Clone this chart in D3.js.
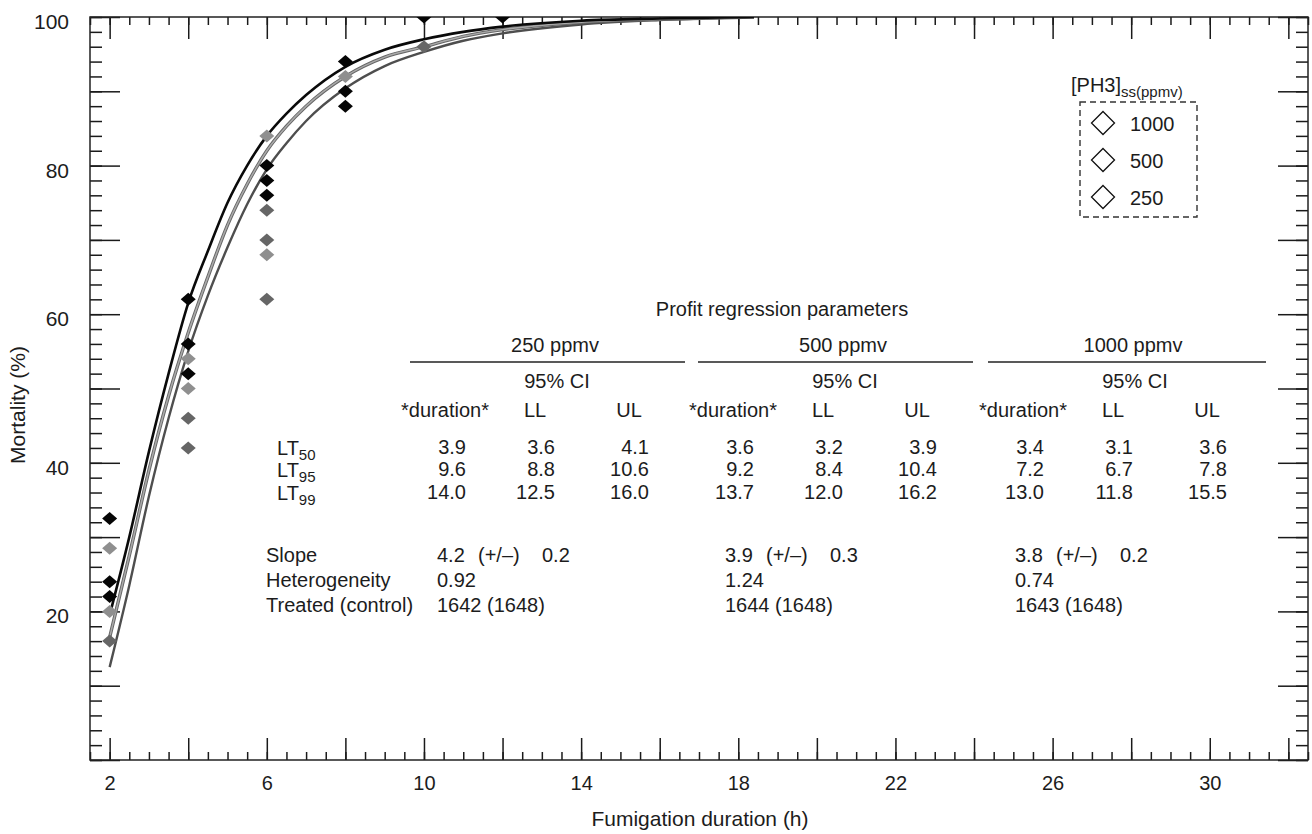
<!DOCTYPE html>
<html>
<head>
<meta charset="utf-8">
<script src="https://cdn.jsdelivr.net/npm/d3@7"></script>
<style>
  body { margin: 0; background: #fff; }
  svg text { font-family: "Liberation Sans", Arial, Helvetica, sans-serif; fill: #1c1c1c; }
  .frame { fill: none; stroke: #222; stroke-width: 1.5; }
</style>
</head>
<body>
<div id="chart"></div>
<script>
// observed mortality (%) by fumigation duration (h), one pair of arrays per concentration
var hours1000 = [2, 2, 2, 4, 4, 4, 6, 6, 6, 8, 8, 8, 10, 12];
var mort1000  = [32.5, 24, 22, 62, 56, 52, 80, 78, 76, 94, 90, 88, 100, 100];
var hours500  = [2, 2, 4, 4, 6, 6, 8];
var mort500   = [28.5, 20, 54, 50, 84, 68, 92];
var hours250  = [2, 4, 4, 6, 6, 6, 10];
var mort250   = [16, 46, 42, 74, 70, 62, 96];

// fitted probit curves
var fitHours = [2, 2.5, 3, 3.5, 4, 4.5, 5, 5.5, 6, 6.5, 7, 8, 9, 10, 11, 12, 14, 16, 18.4];
var fit1000  = [19.5, 30, 41.5, 52, 61.5, 68.5, 75, 80, 84, 87, 89.5, 93.3, 95.6, 97, 98, 98.7, 99.5, 99.8, 100];
var fit500   = [16.5, 27.5, 39, 49, 57.5, 65, 72, 77.5, 82, 85.3, 88, 92, 94.6, 96, 97.4, 98.3, 99.3, 99.7, 100];
var fit250   = [12.5, 23.5, 35.5, 46, 55, 62.5, 69, 74.8, 79.5, 83, 86, 90.4, 93.4, 95.3, 96.8, 97.8, 99, 99.6, 100];

// legend
var legendLabels = ["1000", "500", "250"];

// axis ticks
var xLabelTicks = [2, 6, 10, 14, 18, 22, 26, 30];
var yLabelTicks = [20, 40, 60, 80, 100];
var xMinor = d3.range(1.5, 32.51, 0.5);
var xMajor = d3.range(2, 33, 2);
var yMinor = d3.range(0, 100.1, 2);
var yMajor = d3.range(0, 100.1, 10);

// probit regression table
var groupNames = ["250 ppmv", "500 ppmv", "1000 ppmv"];
var colNames = ["*duration*", "LL", "UL"];
var ltNames = ["50", "95", "99"];
var lt250  = [[3.9, 3.6, 4.1], [9.6, 8.8, 10.6], [14.0, 12.5, 16.0]];
var lt500  = [[3.6, 3.2, 3.9], [9.2, 8.4, 10.4], [13.7, 12.0, 16.2]];
var lt1000 = [[3.4, 3.1, 3.6], [7.2, 6.7, 7.8], [13.0, 11.8, 15.5]];
var slopes = [4.2, 3.9, 3.8];
var slopeErr = [0.2, 0.3, 0.2];
var heterogeneity = ["0.92", "1.24", "0.74"];
var treated = [1642, 1644, 1643];
var control = [1648, 1648, 1648];

var width = 1312, height = 834;
var plotL = 90, plotR = 1308, plotT = 17, plotB = 760;

var svg = d3.select("#chart").append("svg")
  .attr("width", width)
  .attr("height", height);

var x = d3.scaleLinear().domain([1.5, 32.5]).range([plotL, plotR]);
var y = d3.scaleLinear().domain([0, 100]).range([plotB, plotT]);

svg.append("defs").append("clipPath").attr("id", "plot")
  .append("rect").attr("x", plotL).attr("y", plotT)
  .attr("width", plotR - plotL).attr("height", plotB - plotT);

// ticks on all four sides, pointing inward
function ticksOn(axis, tf, vals, size) {
  var g = svg.append("g").attr("transform", tf)
    .call(axis.tickValues(vals).tickSize(-size).tickFormat(""));
  g.select(".domain").remove();
  g.selectAll(".tick line").attr("stroke", "#1a1a1a").attr("stroke-width", 1.5);
}
ticksOn(d3.axisBottom(x), "translate(0," + plotB + ")", xMinor, 8);
ticksOn(d3.axisBottom(x), "translate(0," + plotB + ")", xMajor, 22);
ticksOn(d3.axisTop(x), "translate(0," + plotT + ")", xMinor, 8);
ticksOn(d3.axisTop(x), "translate(0," + plotT + ")", xMajor, 22);
ticksOn(d3.axisLeft(y), "translate(" + plotL + ",0)", yMinor, 12);
ticksOn(d3.axisLeft(y), "translate(" + plotL + ",0)", yMajor, 30);
ticksOn(d3.axisRight(y), "translate(" + plotR + ",0)", yMinor, 12);
ticksOn(d3.axisRight(y), "translate(" + plotR + ",0)", yMajor, 30);

svg.append("rect").attr("class", "frame")
  .attr("x", plotL).attr("y", plotT)
  .attr("width", plotR - plotL).attr("height", plotB - plotT);

// tick labels
var xl = svg.append("g").attr("transform", "translate(0," + plotB + ")")
  .call(d3.axisBottom(x).tickValues(xLabelTicks).tickSize(0).tickPadding(16));
xl.select(".domain").remove();
xl.selectAll("text").style("font-size", "20px").attr("fill", "#1c1c1c");

var yl = svg.append("g").attr("transform", "translate(" + (plotL - 21) + ",0)")
  .call(d3.axisLeft(y).tickValues(yLabelTicks).tickSize(0).tickPadding(0));
yl.select(".domain").remove();
yl.selectAll("text").style("font-size", "21px").attr("fill", "#1c1c1c").attr("dy", "0.55em");

svg.append("text").attr("x", 700).attr("y", 826)
  .attr("text-anchor", "middle").style("font-size", "21px")
  .text("Fumigation duration (h)");
svg.append("text")
  .attr("transform", "translate(25,405) rotate(-90)")
  .attr("text-anchor", "middle").style("font-size", "21px")
  .text("Mortality (%)");

// fitted curves
var plot = svg.append("g").attr("clip-path", "url(#plot)");
function curve(vals, color, w) {
  var line = d3.line()
    .x(function(d, i) { return x(fitHours[i]); })
    .y(function(d) { return y(d); })
    .curve(d3.curveMonotoneX);
  plot.append("path").datum(vals)
    .attr("d", line)
    .attr("fill", "none")
    .attr("stroke", color)
    .attr("stroke-width", w);
}
curve(fit250, "#4e4e4e", 2.4);
curve(fit500, "#666", 3.4);
curve(fit500, "#aaa", 1.5);
curve(fit1000, "#0a0a0a", 2.6);

// observed points
function diamond(w, h) {
  return "M0," + (-h) + "L" + w + ",0L0," + h + "L" + (-w) + ",0Z";
}
function points(hours, mort, color) {
  plot.append("g").selectAll("path")
    .data(mort)
    .enter().append("path")
    .attr("d", diamond(7.5, 6.5))
    .attr("transform", function(d, i) { return "translate(" + x(hours[i]) + "," + y(d) + ")"; })
    .attr("fill", color);
}
points(hours250, mort250, "#666");
points(hours500, mort500, "#8f8f8f");
points(hours1000, mort1000, "#050505");

// legend
var lg = svg.append("g");
var lt = lg.append("text").attr("x", 1071).attr("y", 92).style("font-size", "20px");
lt.append("tspan").text("[PH3]");
lt.append("tspan").attr("dy", 5).style("font-size", "15px").text("ss(ppmv)");
lg.append("rect").attr("x", 1080).attr("y", 102).attr("width", 117).attr("height", 115)
  .attr("fill", "none").attr("stroke", "#333").attr("stroke-width", 1.4)
  .attr("stroke-dasharray", "6,4");
var ly = d3.scalePoint().domain(legendLabels).range([123, 197]);
legendLabels.forEach(function(l) {
  lg.append("path").attr("d", diamond(11.5, 11.5))
    .attr("transform", "translate(1103," + ly(l) + ")")
    .attr("fill", "#fff").attr("stroke", "#111").attr("stroke-width", 1.3);
  lg.append("text").attr("x", 1130).attr("y", ly(l) + 8)
    .style("font-size", "20px").text(l);
});

// regression table
var tb = svg.append("g").style("font-size", "20px");
tb.append("text").attr("x", 782).attr("y", 316).attr("text-anchor", "middle")
  .text("Profit regression parameters");
var offsets = [0, 288, 578];
var ltTables = [lt250, lt500, lt1000];
var rowY = [454, 476, 499];
var colHeadX = [445, 535, 629];
var colValX = [466, 555, 649];
groupNames.forEach(function(name, g) {
  var o = offsets[g];
  tb.append("text").attr("x", 555 + o).attr("y", 352).attr("text-anchor", "middle").text(name);
  tb.append("line").attr("x1", 410 + o).attr("x2", 685 + o + (g === 2 ? 3 : 0))
    .attr("y1", 362).attr("y2", 362).attr("stroke", "#222").attr("stroke-width", 1.3);
  tb.append("text").attr("x", 557 + o).attr("y", 388).attr("text-anchor", "middle").text("95% CI");
  colNames.forEach(function(c, j) {
    tb.append("text").attr("x", colHeadX[j] + o).attr("y", 417).attr("text-anchor", "middle").text(c);
  });
  ltTables[g].forEach(function(row, r) {
    row.forEach(function(v, j) {
      tb.append("text").attr("x", colValX[j] + o).attr("y", rowY[r])
        .attr("text-anchor", "end").text(v.toFixed(1));
    });
  });
  tb.append("text").attr("x", 437 + o).attr("y", 562).text(slopes[g].toFixed(1));
  tb.append("text").attr("x", 478 + o).attr("y", 562).text("(+/\u2013)");
  tb.append("text").attr("x", 542 + o).attr("y", 562).text(slopeErr[g].toFixed(1));
  tb.append("text").attr("x", 437 + o).attr("y", 587).text(heterogeneity[g]);
  tb.append("text").attr("x", 437 + o).attr("y", 612).text(treated[g] + " (" + control[g] + ")");
});
ltNames.forEach(function(n, r) {
  var t = tb.append("text").attr("x", 277).attr("y", rowY[r] + 1);
  t.append("tspan").text("LT");
  t.append("tspan").attr("dy", 5).style("font-size", "15px").text(n);
});
["Slope", "Heterogeneity", "Treated (control)"].forEach(function(s, r) {
  tb.append("text").attr("x", 266).attr("y", 562 + r * 25).text(s);
});
</script>
</body>
</html>
